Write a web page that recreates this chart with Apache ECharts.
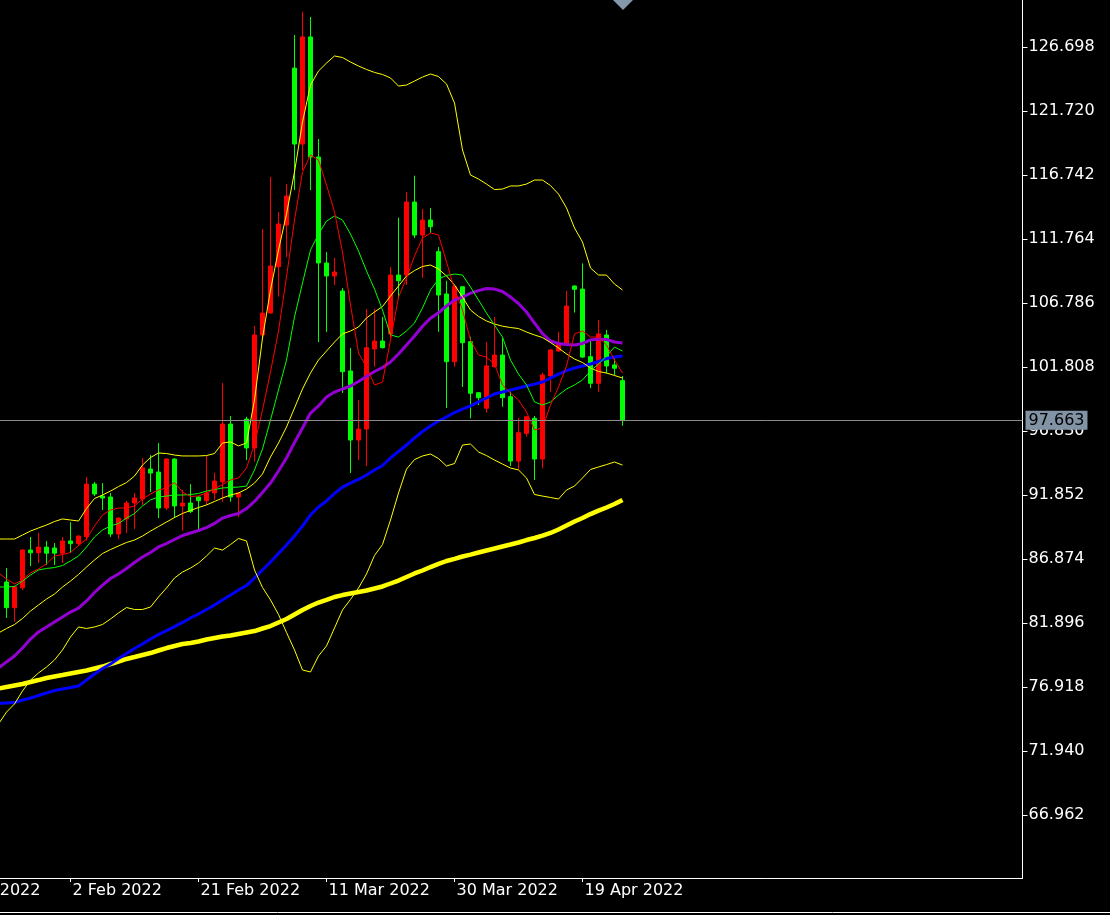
<!DOCTYPE html>
<html>
<head>
<meta charset="utf-8">
<script src="https://cdn.jsdelivr.net/npm/echarts@6/dist/echarts.min.js"></script>
<style>
html,body{margin:0;padding:0;background:#000;}
#chart{width:1110px;height:915px;}
</style>
</head>
<body>
<div id="chart"></div>
<script>
// Session dates (one category per bar), first entry is the off-screen "14 Jan 2022" label position
const dates = [
  "14 Jan 2022","16 Jan 2022","17 Jan 2022","18 Jan 2022","19 Jan 2022","20 Jan 2022","21 Jan 2022","23 Jan 2022",
  "24 Jan 2022","25 Jan 2022","26 Jan 2022","27 Jan 2022","28 Jan 2022","30 Jan 2022","31 Jan 2022","1 Feb 2022",
  "2 Feb 2022","3 Feb 2022","4 Feb 2022","6 Feb 2022","7 Feb 2022","8 Feb 2022","9 Feb 2022","10 Feb 2022",
  "11 Feb 2022","13 Feb 2022","14 Feb 2022","15 Feb 2022","16 Feb 2022","17 Feb 2022","18 Feb 2022","20 Feb 2022",
  "21 Feb 2022","22 Feb 2022","23 Feb 2022","24 Feb 2022","25 Feb 2022","27 Feb 2022","28 Feb 2022","1 Mar 2022",
  "2 Mar 2022","3 Mar 2022","4 Mar 2022","6 Mar 2022","7 Mar 2022","8 Mar 2022","9 Mar 2022","10 Mar 2022",
  "11 Mar 2022","13 Mar 2022","14 Mar 2022","15 Mar 2022","16 Mar 2022","17 Mar 2022","18 Mar 2022","20 Mar 2022",
  "21 Mar 2022","22 Mar 2022","23 Mar 2022","24 Mar 2022","25 Mar 2022","27 Mar 2022","28 Mar 2022","29 Mar 2022",
  "30 Mar 2022","31 Mar 2022","1 Apr 2022","3 Apr 2022","4 Apr 2022","5 Apr 2022","6 Apr 2022","7 Apr 2022",
  "8 Apr 2022","10 Apr 2022","11 Apr 2022","12 Apr 2022","13 Apr 2022","14 Apr 2022","17 Apr 2022","18 Apr 2022",
  "19 Apr 2022","20 Apr 2022","21 Apr 2022","22 Apr 2022","24 Apr 2022","25 Apr 2022"
];

// Candles [open, close, low, high] for "24 Jan 2022" .. "25 Apr 2022"
const candles = [
  [85.09,83.09,82.29,86.18],[83.09,84.72,82.00,84.80],[84.64,87.57,84.46,87.65],[87.57,87.36,86.33,88.59],
  [87.36,87.80,86.56,88.90],[87.80,87.33,86.41,88.28],[87.73,87.33,86.41,88.12],[87.33,88.28,86.56,88.59],
  [88.28,88.07,87.33,89.74],[88.07,88.66,87.89,88.72],[88.61,92.70,88.30,93.25],[92.70,91.93,91.77,92.88],
  [91.77,91.62,90.69,92.78],[91.70,88.82,88.59,92.01],[88.82,90.06,88.43,90.10],[89.99,91.23,88.90,91.39],
  [91.23,91.62,89.21,92.01],[91.54,93.95,91.08,94.73],[93.87,93.56,92.09,94.96],[93.64,90.84,90.06,95.89],
  [90.84,94.65,90.69,94.72],[94.65,91.00,90.06,94.72],[91.00,91.23,89.08,92.24],[91.23,90.56,90.45,92.70],
  [91.70,91.41,89.21,91.75],[91.41,92.01,91.08,94.88],[92.01,92.94,91.47,93.58],[92.88,97.37,91.33,100.56],
  [97.37,91.70,91.33,98.00],[91.70,92.01,90.14,92.05],[97.76,95.51,94.57,97.94],[95.51,104.30,94.44,105.00],
  [104.30,106.01,103.91,112.54],[106.01,109.66,105.95,116.59],[109.61,112.93,107.28,113.86],[112.85,115.11,110.36,116.04],
  [125.06,119.15,115.57,127.63],[119.15,127.48,117.13,129.44],[127.48,118.14,115.57,129.03],[118.14,109.90,103.75,119.54],
  [109.90,108.89,104.53,110.75],[108.89,109.20,108.19,110.29],[107.72,101.44,99.79,107.95],[101.50,96.13,93.56,103.29],
  [96.13,96.98,94.57,99.24],[96.98,103.31,94.11,106.32],[103.21,103.83,101.83,106.32],[103.83,103.31,103.25,105.70],
  [104.38,108.96,104.06,109.58],[108.96,108.52,107.10,113.42],[108.96,114.64,108.19,115.42],[114.64,112.07,111.84,116.69],
  [112.07,113.24,108.73,114.10],[113.24,112.72,112.23,114.18],[110.78,107.41,104.55,111.14],[107.49,102.22,98.62,108.52],
  [102.22,108.05,101.83,108.10],[108.05,103.70,100.25,108.10],[103.78,99.77,97.82,104.16],[99.81,99.42,98.85,99.85],
  [98.60,101.89,98.26,103.75],[101.83,102.74,101.78,105.70],[102.74,99.42,98.72,104.06],[99.50,94.49,94.11,99.89],
  [94.49,96.70,93.80,97.84],[96.65,97.94,96.39,97.98],[97.82,94.65,93.02,98.00],[94.65,101.19,93.93,101.37],
  [101.11,103.13,99.89,103.21],[103.05,103.60,103.00,104.55],[103.57,106.55,103.50,107.72],[108.11,107.85,106.04,108.15],
  [107.87,102.58,102.50,109.87],[102.61,100.54,100.16,103.98],[100.54,104.38,99.89,105.47],[104.30,101.89,101.32,104.69],
  [101.97,101.71,101.19,102.67],[100.75,97.663,97.24,101.11]
];

// Indicator lines, from "23 Jan 2022" (just off the left edge) to "25 Apr 2022"
const maFast = [
  85.79,85.32,84.93,85.24,85.79,86.10,86.49,87.11,87.22,87.38,
  87.92,88.43,89.44,90.30,90.69,90.84,90.84,91.00,91.54,91.93,
  92.24,92.40,92.82,92.09,91.74,91.78,92.01,92.32,92.67,93.02,
  93.18,93.95,95.82,98.46,101.42,104.61,108.81,113.24,116.98,118.30,
  117.91,115.96,113.87,110.75,106.63,102.90,101.81,100.41,100.64,103.91,
  107.25,108.73,110.44,111.84,112.23,112.08,109.98,107.87,106.24,103.91,
  102.74,102.58,102.04,100.41,99.79,99.24,98.31,96.91,97.07,98.85,
  100.25,101.89,104.38,104.61,104.14,104.14,103.52,102.35,101.34
];
const maMid = [
  84.70,84.70,84.74,85.16,85.63,86.02,86.14,86.21,86.37,86.72,
  87.11,87.81,88.59,89.13,89.44,89.64,90.06,90.41,91.00,91.47,
  91.70,91.77,91.85,91.85,91.89,91.97,92.16,92.28,92.40,92.44,
  92.47,92.55,93.80,95.43,97.69,100.02,102.35,105.70,108.34,110.91,
  112.15,113.16,113.55,113.24,112.15,110.83,109.28,107.87,106.24,104.30,
  104.14,104.61,105.23,106.40,107.80,108.65,108.93,109.04,108.96,108.03,
  107.02,106.01,105.07,104.14,102.35,101.26,100.41,99.09,98.85,99.09,
  99.63,100.10,100.41,100.80,101.50,102.04,102.66,103.36,103.05
];
const bandUpper = [
  88.43,88.43,88.43,88.74,89.05,89.29,89.52,89.79,89.99,89.91,
  89.83,90.80,91.58,91.85,92.16,92.51,92.82,93.33,94.18,94.77,
  95.12,95.08,94.96,94.89,94.89,94.89,94.92,95.08,95.90,95.98,
  95.67,95.90,99.24,104.06,107.80,110.91,113.71,116.98,120.87,123.74,
  124.83,125.45,126.00,125.88,125.53,125.22,124.95,124.72,124.56,124.29,
  123.66,123.74,124.05,124.36,124.60,124.40,123.82,122.34,118.69,116.74,
  116.43,116.04,115.61,115.65,115.89,115.89,116.04,116.35,116.35,115.92,
  115.26,114.18,112.62,111.53,109.51,108.96,108.96,108.26,107.80
];
const bandMiddle = [
  81.12,81.47,81.78,82.25,82.83,83.30,83.76,84.15,84.70,85.16,
  85.67,86.25,86.80,87.30,87.61,87.89,88.16,88.35,88.66,89.05,
  89.40,89.75,90.10,90.42,90.65,90.88,91.08,91.35,91.62,91.85,
  92.01,92.32,92.78,93.49,94.81,95.90,97.14,98.62,100.10,101.34,
  102.35,103.05,103.75,104.38,104.61,104.92,105.62,106.09,106.51,107.33,
  108.11,108.89,109.31,109.63,109.74,109.43,108.89,108.19,107.25,106.24,
  105.74,105.39,105.15,104.98,104.88,104.80,104.53,104.30,104.10,103.71,
  103.29,102.82,102.43,102.16,101.73,101.46,101.34,101.15,100.95
];
const bandLower = [
  74.04,74.97,75.60,76.61,77.46,78.01,78.47,79.02,79.80,80.81,
  81.59,81.47,81.59,81.78,82.21,82.68,83.10,82.95,82.95,83.14,
  83.92,84.62,85.40,85.86,86.17,86.56,87.11,87.73,87.57,88.00,
  88.47,88.28,86.02,84.66,83.69,82.56,81.16,79.80,78.24,78.09,
  79.33,80.11,81.51,82.91,83.73,84.62,85.71,87.15,88.00,89.91,
  92.01,93.87,94.61,94.89,95.04,94.69,94.11,94.30,95.74,95.82,
  95.20,94.92,94.57,94.26,93.95,93.80,93.18,91.89,91.77,91.66,
  91.54,92.24,92.55,93.18,93.84,94.03,94.22,94.42,94.18
];
const maPurple = [
  78.40,78.87,79.33,79.95,80.65,81.20,81.59,81.98,82.36,82.75,
  83.06,83.61,84.27,84.85,85.36,85.71,86.14,86.60,87.03,87.38,
  87.81,88.08,88.39,88.70,88.90,89.09,89.32,89.64,90.06,90.26,
  90.41,90.80,91.35,92.05,92.78,93.72,94.73,95.94,97.07,98.23,
  98.78,99.48,99.86,100.10,100.33,100.68,101.07,101.46,101.77,102.20,
  102.82,103.52,104.22,104.98,105.61,106.03,106.55,107.02,107.25,107.56,
  107.75,107.91,107.87,107.68,107.25,106.75,106.09,105.23,104.41,103.83,
  103.64,103.56,103.52,103.64,103.91,103.99,103.95,103.75,103.68
];
const maBlue = [
  75.64,75.68,75.71,75.91,76.06,76.26,76.45,76.64,76.76,76.88,
  76.99,77.46,77.93,78.36,78.71,79.14,79.52,79.91,80.26,80.65,
  81.00,81.31,81.62,81.94,82.29,82.60,82.95,83.30,83.69,84.07,
  84.46,84.81,85.40,86.02,86.64,87.31,87.97,88.67,89.44,90.30,
  90.92,91.39,91.97,92.47,92.78,93.06,93.41,93.80,94.15,94.73,
  95.24,95.74,96.29,96.79,97.22,97.61,97.92,98.27,98.54,98.78,
  99.09,99.40,99.71,99.86,100.02,100.17,100.33,100.48,100.64,100.95,
  101.26,101.53,101.73,101.89,102.04,102.24,102.47,102.58,102.66
];
const maSlow = [
  76.80,76.92,77.04,77.15,77.31,77.46,77.62,77.74,77.85,77.97,
  78.09,78.20,78.36,78.51,78.71,78.90,79.10,79.25,79.41,79.56,
  79.76,79.95,80.11,80.26,80.34,80.46,80.61,80.73,80.85,80.92,
  81.04,81.16,81.27,81.47,81.66,81.94,82.21,82.56,82.91,83.22,
  83.49,83.69,83.92,84.07,84.19,84.31,84.43,84.58,84.74,84.97,
  85.20,85.48,85.75,85.98,86.25,86.49,86.72,86.88,87.07,87.22,
  87.38,87.54,87.69,87.85,88.00,88.16,88.35,88.51,88.70,88.90,
  89.17,89.48,89.79,90.06,90.37,90.64,90.88,91.15,91.47
];

// Price scale tick labels
const priceTicks = [66.962,71.940,76.918,81.896,86.874,91.852,96.830,101.808,106.786,111.764,116.742,121.720,126.698];
const priceMin = 62.064;
const priceMax = 130.354;
const lastPrice = 97.663;

// ---- build ----
const totalCats = 136;        // includes empty right-side shift area
const lineStart = 7;          // category index of the first line point
const candleStart = 8;        // category index of the first candle
const labelStep = 16;
const lastLabelIdx = 80;

function pad(arr, start) {
  const out = [];
  for (let i = 0; i < start; i++) out.push('-');
  return out.concat(arr);
}
const showLabel = (i) => i % labelStep === 0 && i <= lastLabelIdx;
const FONT = 'DejaVu Sans';

function lineSeries(name, values, color, width, z) {
  return {
    name, type: 'line', data: pad(values, lineStart), symbol: 'none',
    lineStyle: { color, width }, itemStyle: { color }, z: z,
    silent: true, animation: false
  };
}

const chart = echarts.init(document.getElementById('chart'), null, { renderer: 'canvas' });
chart.setOption({
  backgroundColor: '#000000',
  animation: false,
  grid: { left: -57.5, right: 87.5, top: 0, bottom: 37, containLabel: false, outerBoundsMode: 'none' },
  xAxis: {
    type: 'category', data: dates, boundaryGap: false, min: 0, max: totalCats - 1,
    axisLine: { show: true, lineStyle: { color: '#ffffff', width: 1 } },
    axisTick: { show: true, interval: showLabel, length: 4, lineStyle: { color: '#ffffff' } },
    axisLabel: { show: true, interval: showLabel, color: '#ffffff', fontFamily: FONT, fontSize: 16,
                 align: 'left', margin: 5, padding: [0, 0, 0, 2] },
    splitLine: { show: false }
  },
  yAxis: {
    type: 'value', position: 'right', min: priceMin, max: priceMax, scale: true,
    axisLine: { show: true, lineStyle: { color: '#ffffff', width: 1 } },
    axisTick: { show: true, length: 5, customValues: priceTicks, lineStyle: { color: '#ffffff' } },
    axisLabel: { show: true, customValues: priceTicks, color: '#ffffff', fontFamily: FONT, fontSize: 16,
                 margin: 6, formatter: (v) => Number(v).toFixed(3) },
    splitLine: { show: false }
  },
  series: [
    {
      name: 'price', type: 'candlestick', data: pad(candles, candleStart), barWidth: 4,
      itemStyle: { color: '#ff0000', color0: '#00ff00', borderColor: '#ff0000', borderColor0: '#00ff00', borderWidth: 1 },
      z: 2, silent: true, animation: false,
      markLine: {
        silent: true, symbol: ['none', 'none'], animation: false,
        data: [{ yAxis: lastPrice }],
        lineStyle: { color: '#8c8c8c', width: 1, type: 'solid' },
        label: { show: true, position: 'end', distance: 3, formatter: lastPrice.toFixed(3),
                 color: '#000000', backgroundColor: '#8193a5', fontFamily: FONT, fontSize: 16,
                 padding: [2, 3, 1, 3] }
      }
    },
    lineSeries('MA slow', maSlow, '#ffff00', 4.5, 3),
    lineSeries('MA blue', maBlue, '#0000ff', 3, 3),
    lineSeries('MA purple', maPurple, '#9400d3', 3, 3),
    lineSeries('Band lower', bandLower, '#ffff00', 1, 4),
    lineSeries('Band middle', bandMiddle, '#ffff00', 1, 4),
    lineSeries('Band upper', bandUpper, '#ffff00', 1, 4),
    lineSeries('MA mid', maMid, '#00ff00', 1, 4),
    lineSeries('MA fast', maFast, '#ff0000', 1, 4)
  ],
  graphic: [
    { type: 'polygon', shape: { points: [[613, 0], [633, 0], [623, 10]] }, style: { fill: '#8497ab' }, silent: true },
    { type: 'line', shape: { x1: 0, y1: 912.5, x2: 1110, y2: 912.5 }, style: { stroke: '#ffffff', lineWidth: 1 }, silent: true }
  ]
});
</script>
</body>
</html>
